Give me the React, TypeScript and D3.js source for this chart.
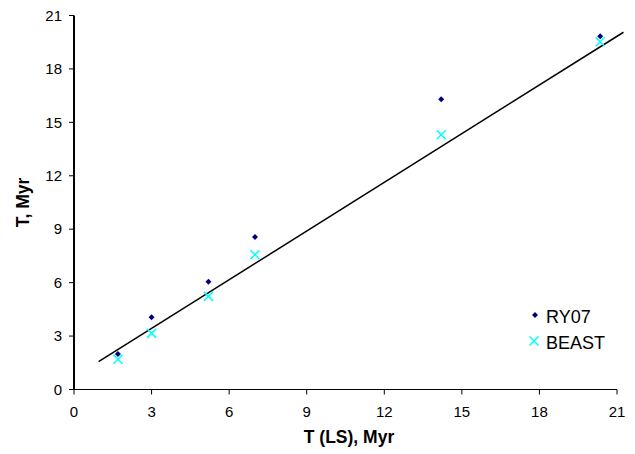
import React from "react";
import * as d3 from "d3";

const ticks = [0, 3, 6, 9, 12, 15, 18, 21];
const ry07X = [1.7, 3.0, 5.2, 7.0, 14.2, 20.35];
const ry07Y = [2.0, 4.05, 6.05, 8.56, 16.3, 19.83];
const beastX = [1.7, 3.0, 5.2, 7.0, 14.2, 20.35];
const beastY = [1.7, 3.15, 5.23, 7.57, 14.3, 19.53];
const fitX = [0.95, 21.25];
const fitY = [1.56, 20.06];
const seriesNames = ["RY07", "BEAST"];

export default function App() {
  const W = 635, H = 454;
  const x = d3.scaleLinear().domain([0, 21]).range([74, 617]);
  const y = d3.scaleLinear().domain([0, 21]).range([389.5, 15.5]);
  const font = "Arial, 'Liberation Sans', sans-serif";
  const line = d3.line<number>().x((d, i) => x(fitX[i])).y((d, i) => y(fitY[i]));
  const diamond = (cx: number, cy: number) =>
    `M${cx},${cy - 3}L${cx + 3},${cy}L${cx},${cy + 3}L${cx - 3},${cy}Z`;
  const cross = (cx: number, cy: number, s = 4.5) =>
    `M${cx - s},${cy - s}L${cx + s},${cy + s}M${cx - s},${cy + s}L${cx + s},${cy - s}`;
  return (
    <svg width={W} height={H} style={{ position: "absolute", left: 0, top: 0 }} fontFamily={font}>
      <rect width={W} height={H} fill="white" />
      {/* x axis */}
      <line x1={x(0)} x2={x(21)} y1={y(0)} y2={y(0)} stroke="black" strokeWidth={1} />
      {ticks.map((t) => (
        <g key={"xt" + t}>
          <line x1={x(t)} x2={x(t)} y1={y(0)} y2={y(0) + 5} stroke="black" />
          <text x={x(t)} y={416.5} fontSize={15} textAnchor="middle">{t}</text>
        </g>
      ))}
      {/* y axis */}
      <line x1={x(0)} x2={x(0)} y1={y(0)} y2={y(21)} stroke="black" strokeWidth={2} />
      {ticks.map((t) => (
        <g key={"yt" + t}>
          <line x1={x(0) - 5} x2={x(0)} y1={y(t)} y2={y(t)} stroke="black" />
          <text x={62} y={y(t) + 5.2} fontSize={15} textAnchor="end">{t}</text>
        </g>
      ))}
      <text x={349} y={443} fontSize={17.5} fontWeight="bold" textAnchor="middle">T (LS), Myr</text>
      <text transform={`translate(29,${y(10.5)}) rotate(-90)`} fontSize={17.5} fontWeight="bold" textAnchor="middle">T, Myr</text>
      <path d={line(fitX) || ""} fill="none" stroke="black" strokeWidth={1.5} />
      {ry07X.map((v, i) => (
        <path key={"r" + i} d={diamond(x(v), y(ry07Y[i]))} fill="#000080" />
      ))}
      {beastX.map((v, i) => (
        <path key={"b" + i} d={cross(x(v), y(beastY[i]))} stroke="#00FFFF" strokeWidth={1.5} fill="none" />
      ))}
      {/* legend */}
      <path d={diamond(535, 315)} fill="#000080" />
      <text x={546} y={322.5} fontSize={18}>{seriesNames[0]}</text>
      <path d={cross(534, 341)} stroke="#00FFFF" strokeWidth={1.5} fill="none" />
      <text x={546} y={348.5} fontSize={18}>{seriesNames[1]}</text>
    </svg>
  );
}
